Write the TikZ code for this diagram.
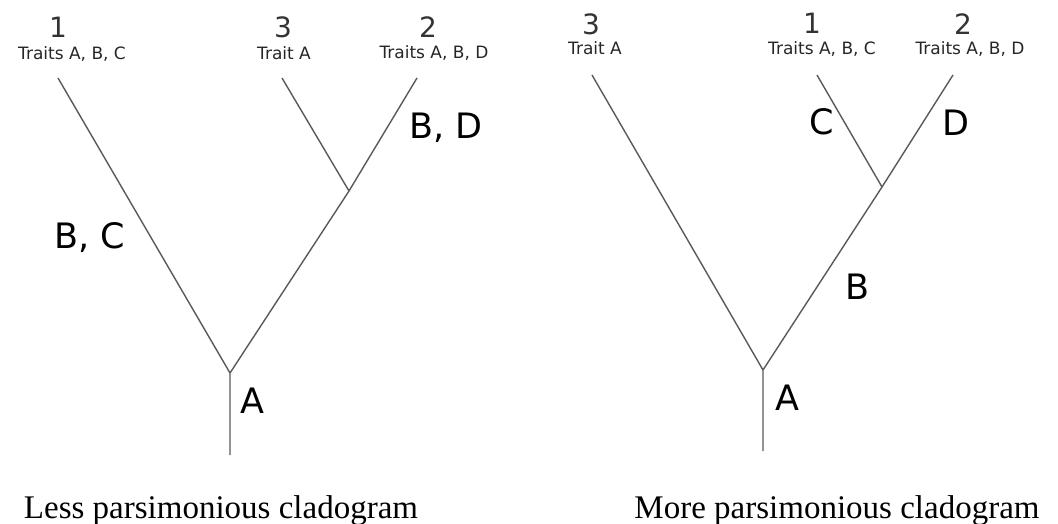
\documentclass[tikz,border=0pt]{standalone}
\usepackage{fontspec}
\setmainfont{Liberation Serif}
\newfontfamily\lblfont{DejaVu Sans}
\begin{document}
\begin{tikzpicture}[x=1pt,y=-1pt,
  branch/.style={draw=black!65, line width=1.4pt},
  num/.style={font=\lblfont\fontsize{28}{30}\selectfont, text=black!80, anchor=base, inner sep=0pt},
  trait/.style={font=\lblfont\fontsize{17}{19}\selectfont, text=black!85, anchor=base, inner sep=0pt},
  traitlbl/.style={font=\lblfont\fontsize{35}{38}\selectfont, anchor=center, inner sep=0pt},
  caption/.style={font=\fontsize{33}{36}\selectfont, anchor=base, inner sep=0pt}]
\useasboundingbox (0,0) rectangle (1058,524);
% ---------- left tree ----------
\coordinate (Lroot) at (230,455);
\coordinate (Lj) at (230,373);
\coordinate (Lt1) at (58,78);
\coordinate (Lj2) at (349,191);
\coordinate (Lt3) at (282,78);
\coordinate (Lt2) at (417,78);
\draw[branch] (Lroot) -- (Lj) -- (Lt1);
\draw[branch] (Lj) -- (Lj2) -- (Lt2);
\draw[branch] (Lj2) -- (Lt3);
\node[num] (Ln1) at (58,38) {1};
\node[trait] (Ltr1) at (72,60) {Traits A, B, C};
\node[num] (Ln3) at (283,38) {3};
\node[trait] (Ltr3) at (284,60) {Trait A};
\node[num] (Ln2) at (428,38) {2};
\node[trait] (Ltr2) at (434,59) {Traits A, B, D};
\node[traitlbl] (LBD) at (446,128) {B, D};
\node[traitlbl] (LBC) at (90,238) {B, C};
\node[traitlbl] (LA) at (252,401) {A};
\node[caption] (Lcap) at (221,518) {Less parsimonious cladogram};
% ---------- right tree ----------
\coordinate (Rroot) at (763,451);
\coordinate (Rj) at (763,370);
\coordinate (Rt3) at (592,75);
\coordinate (Rj2) at (882,187);
\coordinate (Rt1) at (817,75);
\coordinate (Rt2) at (953,75);
\draw[branch] (Rroot) -- (Rj) -- (Rt3);
\draw[branch] (Rj) -- (Rj2) -- (Rt2);
\draw[branch] (Rj2) -- (Rt1);
\node[num] (Rn3) at (591,35) {3};
\node[trait] (Rtr3) at (595,55) {Trait A};
\node[num] (Rn1) at (812,34) {1};
\node[trait] (Rtr1) at (822,55) {Traits A, B, C};
\node[num] (Rn2) at (963,35) {2};
\node[trait] (Rtr2) at (970,55) {Traits A, B, D};
\node[traitlbl] (RC) at (822,122) {C};
\node[traitlbl] (RD) at (956,123) {D};
\node[traitlbl] (RB) at (857,287) {B};
\node[traitlbl] (RA) at (787,398) {A};
\node[caption] (Rcap) at (837,518) {More parsimonious cladogram};
\end{tikzpicture}
\end{document}
